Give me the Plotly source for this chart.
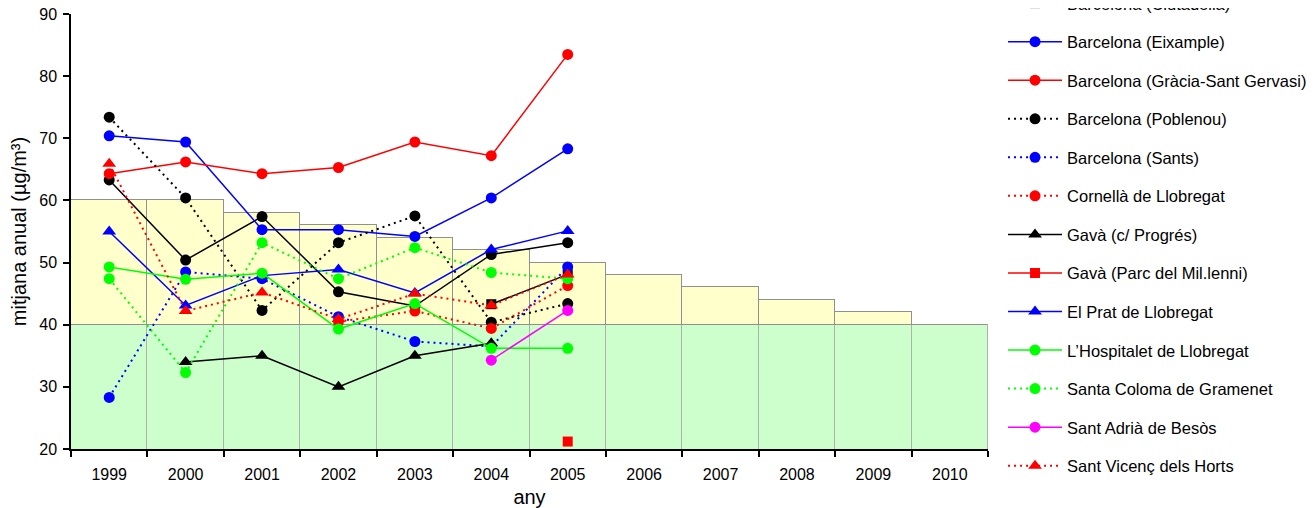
import plotly.graph_objects as go

years = ['1999', '2000', '2001', '2002', '2003', '2004', '2005',
         '2006', '2007', '2008', '2009', '2010']
data_years = years[:7]

# valor límit + marge de tolerància
limit_total = [60, 60, 58, 56, 54, 52, 50, 48, 46, 44, 42, 40]
limit_value = [40] * 12
margin = [t - v for t, v in zip(limit_total, limit_value)]

# sèrie amb llegenda fora del retall (línia negra contínua amb cercles)
hidden_black = [63.3, 50.4, 57.4, 45.3, 43.0, 51.3, 53.2]
ciutadella = [None, None, None, None, None, 43.3, 48.1]
eixample = [70.4, 69.4, 55.3, 55.3, 54.2, 60.4, 68.3]
gracia = [64.3, 66.2, 64.3, 65.3, 69.4, 67.2, 83.5]
poblenou = [73.4, 60.4, 42.3, 53.2, 57.5, 40.4, 43.4]
sants = [28.3, 48.5, 47.4, 41.3, 37.3, 36.5, 49.3]
cornella = [None, None, None, 40.5, 42.2, 39.4, 46.3]
gava_progres = [None, 34.0, 35.0, 30.0, 35.0, 37.0, None]
gava_parc = [None, None, None, None, None, None, 21.2]
prat = [55.0, 43.1, 47.9, 48.9, 45.1, 52.1, 55.1]
hospitalet = [49.3, 47.3, 48.3, 39.3, 43.4, 36.2, 36.2]
santa_coloma = [47.4, 32.3, 53.2, 47.4, 52.4, 48.4, 47.4]
sant_adria = [None, None, None, None, None, 34.3, 42.3]
sant_vicenc = [65.9, 42.2, 45.2, 40.9, 45.0, 43.1, 48.1]

FONT = "Liberation Sans, Arial, sans-serif"
DOT = "2px,4px"

fig = go.Figure()

fig.add_trace(go.Bar(x=years, y=limit_value, marker=dict(color='#CCFFCC',
              line=dict(color='#B0B0B0', width=1.5)), showlegend=False,
              hoverinfo='skip'))
fig.add_trace(go.Bar(x=years, y=margin, marker=dict(color='#FFFFCC',
              line=dict(color='#909090', width=1.5)), showlegend=False,
              hoverinfo='skip'))

series = [
    (None, hidden_black, 'black', 'solid', 'circle', 11),
    ('Barcelona (Ciutadella)', ciutadella, 'black', 'solid', 'square', 10),
    ('Barcelona (Eixample)', eixample, '#0000FF', 'solid', 'circle', 11),
    ('Barcelona (Gràcia-Sant Gervasi)', gracia, '#FF0000', 'solid', 'circle', 11),
    ('Barcelona (Poblenou)', poblenou, 'black', DOT, 'circle', 11),
    ('Barcelona (Sants)', sants, '#0000FF', DOT, 'circle', 11),
    ('Cornellà de Llobregat', cornella, '#FF0000', DOT, 'circle', 11),
    ('Gavà (c/ Progrés)', gava_progres, 'black', 'solid', 'triangle-up', 12),
    ('Gavà (Parc del Mil.lenni)', gava_parc, '#FF0000', 'solid', 'square', 10),
    ('El Prat de Llobregat', prat, '#0000FF', 'solid', 'triangle-up', 12),
    ("L’Hospitalet de Llobregat", hospitalet, '#00FF00', 'solid', 'circle', 11),
    ('Santa Coloma de Gramenet', santa_coloma, '#00FF00', DOT, 'circle', 11),
    ('Sant Adrià de Besòs', sant_adria, '#FF00FF', 'solid', 'circle', 11),
    ('Sant Vicenç dels Horts', sant_vicenc, '#FF0000', DOT, 'triangle-up', 12),
]

for i, (name, vals, col, dash, sym, size) in enumerate(series):
    fig.add_trace(go.Scatter(
        x=data_years, y=vals, mode='lines+markers', name=name or '',
        showlegend=name is not None, legendgroup='g%d' % i,
        connectgaps=False,
        line=dict(color=col, width=2 if dash != 'solid' else 1.5, dash=dash),
        marker=dict(color=col, symbol=sym, size=size, line=dict(width=0)),
    ))

fig.update_layout(
    width=1300, height=508,
    margin=dict(l=63, r=320, t=6, b=67, autoexpand=False),
    paper_bgcolor='white', plot_bgcolor='white',
    barmode='stack', bargap=0,
    font=dict(family=FONT, size=16, color='black'),
    legend=dict(x=1.0164, xanchor='left', y=1.0646, yanchor='top',
                font=dict(family=FONT, size=16.5, color='black'),
                tracegroupgap=14.1, itemwidth=54, traceorder='grouped',
                maxheight=900, bgcolor='rgba(0,0,0,0)'),
    xaxis=dict(type='category', categoryorder='array', categoryarray=years,
               range=[-0.5, 11.5], showline=True, linecolor='black',
               linewidth=1.5, ticks='outside', tickson='boundaries',
               ticklen=6, tickcolor='black', tickwidth=1.5,
               ticklabelstandoff=10,
               tickfont=dict(family=FONT, size=16),
               title=dict(text='any', font=dict(family=FONT, size=20),
                          standoff=8),
               showgrid=False, zeroline=False),
    yaxis=dict(range=[20, 90], dtick=10, tick0=20, showline=True,
               linecolor='black', linewidth=1.5, ticks='outside', ticklen=6,
               tickcolor='black', tickwidth=1.5, ticklabelstandoff=3,
               ticklabeloverflow='allow',
               tickfont=dict(family=FONT, size=16),
               title=dict(text='mitjana anual (µg/m³)',
                          font=dict(family=FONT, size=20), standoff=10),
               showgrid=False, zeroline=False),
)

fig.write_html("out.html")
